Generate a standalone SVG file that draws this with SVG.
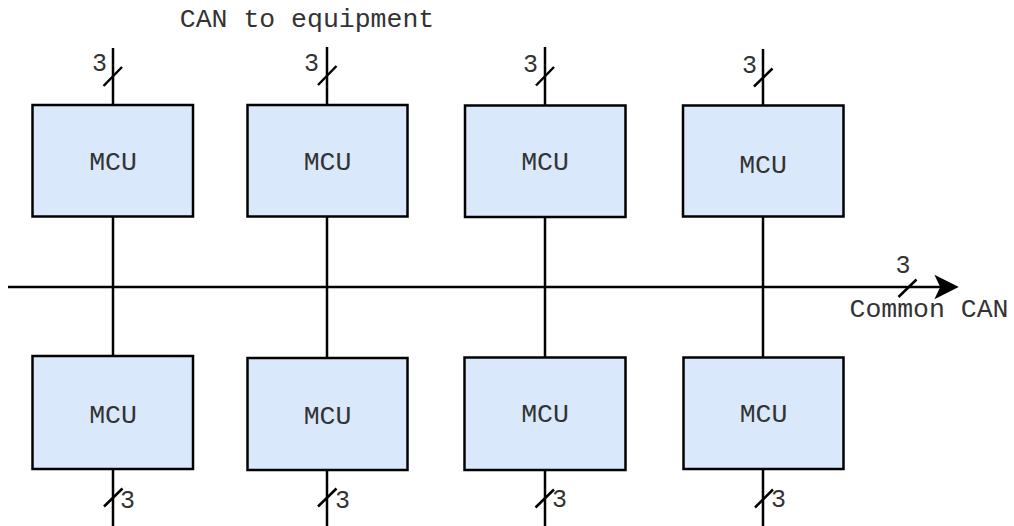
<svg xmlns="http://www.w3.org/2000/svg" width="1014" height="526" viewBox="0 0 1014 526">
<style>
.box{fill:#dae8fc;stroke:#000;stroke-width:2.5}
.ln{stroke:#000;stroke-width:2.5;fill:none}
.t{font-family:"Liberation Mono","Courier New",monospace;font-size:26.5px;fill:#333}
.n{font-family:"Liberation Mono","Courier New",monospace;font-size:25px;fill:#333}
</style>
<rect width="1014" height="526" fill="#fff"/>
<g id="connectors">
<line class="ln" x1="113" y1="48" x2="113" y2="526"/>
<line class="ln" x1="327" y1="47" x2="327" y2="526"/>
<line class="ln" x1="545" y1="47" x2="545" y2="526"/>
<line class="ln" x1="763" y1="49" x2="763" y2="526"/>
<line class="ln" x1="8" y1="287" x2="942" y2="287"/>
<path d="M957,287 L936,276.5 L941,287 L936,297.5 Z" fill="#000" stroke="#000" stroke-width="1.5"/>
<g class="ln">
<line x1="103.5" y1="86" x2="122" y2="67"/>
<line x1="318" y1="85" x2="336.5" y2="66"/>
<line x1="536" y1="85.5" x2="554" y2="67"/>
<line x1="754" y1="86.5" x2="772.5" y2="68.5"/>
<line x1="898.5" y1="297" x2="916.5" y2="279.5"/>
<line x1="104" y1="506.5" x2="122.5" y2="488.5"/>
<line x1="318" y1="506.5" x2="336.5" y2="488.5"/>
<line x1="535.5" y1="507.5" x2="554" y2="489.5"/>
<line x1="755" y1="507.5" x2="773" y2="489.5"/>
</g>
<g class="n">
<text x="107" y="71" text-anchor="end">3</text>
<text x="319" y="71" text-anchor="end">3</text>
<text x="538" y="72" text-anchor="end">3</text>
<text x="757" y="73" text-anchor="end">3</text>
<text x="903" y="273" text-anchor="middle">3</text>
<text x="120" y="508">3</text>
<text x="335" y="508">3</text>
<text x="552" y="507">3</text>
<text x="771" y="507">3</text>
</g>
<text class="t" x="307" y="27" text-anchor="middle">CAN to equipment</text>
<text class="t" x="929" y="317" text-anchor="middle">Common CAN</text>
</g>
<g id="mcu-top-1"><rect class="box" x="32.5" y="105" width="160.5" height="111.5"/><text class="t" x="113" y="170" text-anchor="middle">MCU</text></g>
<g id="mcu-top-2"><rect class="box" x="247.5" y="105" width="160" height="111.5"/><text class="t" x="327.5" y="170" text-anchor="middle">MCU</text></g>
<g id="mcu-top-3"><rect class="box" x="465" y="105.5" width="160.5" height="111.5"/><text class="t" x="545" y="169.5" text-anchor="middle">MCU</text></g>
<g id="mcu-top-4"><rect class="box" x="683" y="105.5" width="160.5" height="111"/><text class="t" x="763" y="172.5" text-anchor="middle">MCU</text></g>
<g id="mcu-bot-1"><rect class="box" x="32.5" y="356" width="160.5" height="113"/><text class="t" x="113" y="423" text-anchor="middle">MCU</text></g>
<g id="mcu-bot-2"><rect class="box" x="247.5" y="358" width="160" height="112"/><text class="t" x="327.5" y="424" text-anchor="middle">MCU</text></g>
<g id="mcu-bot-3"><rect class="box" x="464.5" y="357.5" width="161" height="112.5"/><text class="t" x="545" y="422" text-anchor="middle">MCU</text></g>
<g id="mcu-bot-4"><rect class="box" x="683.5" y="357.5" width="160" height="111.5"/><text class="t" x="763.5" y="422" text-anchor="middle">MCU</text></g>
</svg>
